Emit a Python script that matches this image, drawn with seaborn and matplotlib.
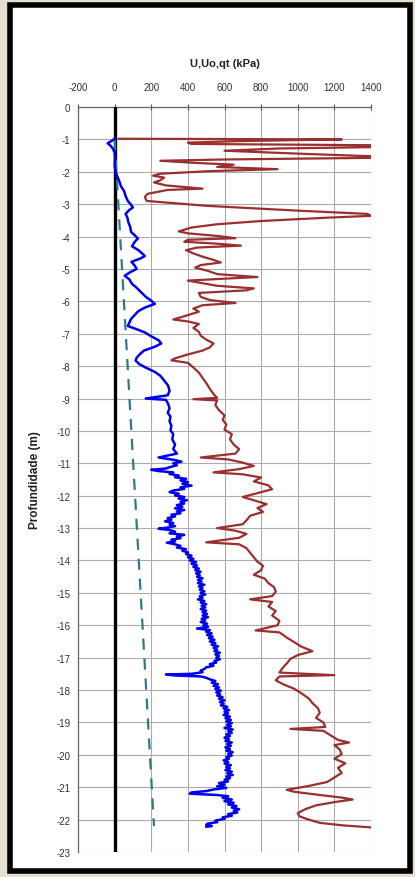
import numpy as np
import seaborn as sns
import matplotlib
matplotlib.use('Agg')
import matplotlib.pyplot as plt
from matplotlib.patches import Rectangle

# qt profile (depth m, kPa)
qt_depth = [0.98, 1.00, 1.05, 1.10, 1.14, 1.18, 1.24, 1.28, 1.35, 1.45, 1.52, 1.57, 1.62, 1.66, 1.72,
	1.78, 1.85, 1.92, 1.98, 2.06, 2.12, 2.18, 2.26, 2.33, 2.42, 2.52, 2.56, 2.68, 2.78, 2.90,
	3.05, 3.20, 3.30, 3.36, 3.42, 3.52, 3.62, 3.72, 3.84, 3.90, 3.98, 4.05, 4.10, 4.16, 4.22,
	4.28, 4.34, 4.42, 4.52, 4.62, 4.72, 4.80, 4.88, 4.96, 5.06, 5.16, 5.25, 5.30, 5.36, 5.44,
	5.52, 5.60, 5.66, 5.74, 5.86, 5.96, 6.05, 6.12, 6.22, 6.32, 6.46, 6.56, 6.62, 6.70, 6.82,
	6.94, 7.06, 7.18, 7.30, 7.42, 7.52, 7.64, 7.76, 7.82, 7.90, 8.04, 8.20, 8.36, 8.52, 8.70,
	8.86, 8.98, 9.02, 9.06, 9.20, 9.36, 9.52, 9.66, 9.80, 9.96, 10.10, 10.26, 10.42, 10.56, 10.70,
	10.82, 10.88, 10.98, 11.08, 11.18, 11.28, 11.34, 11.44, 11.56, 11.68, 11.80, 11.92, 12.04, 12.14, 12.26,
	12.38, 12.50, 12.62, 12.76, 12.88, 13.00, 13.08, 13.18, 13.30, 13.44, 13.50, 13.62, 13.76, 13.90, 14.04,
	14.16, 14.30, 14.44, 14.56, 14.70, 14.82, 14.96, 15.10, 15.20, 15.28, 15.42, 15.56, 15.70, 15.86, 16.00,
	16.16, 16.22, 16.38, 16.52, 16.66, 16.80, 16.92, 17.04, 17.18, 17.30, 17.46, 17.54, 17.58, 17.70, 17.82,
	17.96, 18.10, 18.26, 18.40, 18.56, 18.70, 18.86, 19.00, 19.14, 19.20, 19.26, 19.40, 19.54, 19.62, 19.70,
	19.84, 19.98, 20.12, 20.26, 20.40, 20.56, 20.70, 20.84, 20.96, 21.08, 21.14, 21.24, 21.32, 21.38, 21.46,
	21.56, 21.68, 21.80, 21.90, 22.00, 22.10, 22.18, 22.24]
qt_kpa = [20, 1240, 700, 400, 420, 1400, 1400, 900, 600, 1050, 1400, 1400, 600, 250, 420,
	650, 560, 890, 520, 250, 210, 270, 250, 215, 280, 480, 290, 180, 165, 175,
	500, 1000, 1380, 1400, 1150, 800, 560, 420, 350, 400, 560, 660, 400, 380, 560,
	690, 450, 390, 430, 480, 540, 580, 470, 440, 510, 560, 780, 600, 400, 480,
	560, 760, 720, 460, 470, 520, 660, 480, 430, 460, 380, 320, 400, 460, 430,
	460, 470, 500, 540, 520, 480, 400, 330, 310, 400, 430, 460, 480, 500, 520,
	540, 560, 430, 560, 550, 570, 600, 590, 610, 600, 640, 630, 650, 680, 660,
	470, 620, 700, 760, 680, 540, 700, 800, 760, 840, 860, 780, 700, 760, 830,
	780, 810, 740, 720, 700, 560, 660, 720, 680, 500, 680, 720, 740, 760, 780,
	810, 800, 760, 820, 840, 870, 880, 860, 740, 860, 840, 880, 860, 900, 890,
	770, 900, 940, 980, 1020, 1080, 1000, 960, 940, 920, 900, 1200, 900, 880, 920,
	980, 1020, 1060, 1080, 1110, 1120, 1100, 1140, 1150, 960, 1140, 1180, 1220, 1280, 1200,
	1230, 1240, 1200, 1260, 1220, 1240, 1200, 1160, 1060, 940, 980, 1120, 1240, 1300, 1200,
	1100, 1040, 1000, 1010, 1060, 1120, 1250, 1400]

# pore pressure U
u_depth = [0.98, 1.06, 1.12, 1.18, 1.28, 1.40, 1.60, 1.80, 2.00, 2.15, 2.30, 2.45, 2.60, 2.75, 2.90,
	3.02, 3.10, 3.18, 3.30, 3.42, 3.56, 3.70, 3.86, 3.96, 4.06, 4.16, 4.30, 4.42, 4.52, 4.60,
	4.68, 4.78, 4.90, 5.00, 5.10, 5.21, 5.32, 5.46, 5.58, 5.72, 5.86, 5.98, 6.08, 6.18, 6.30,
	6.42, 6.54, 6.66, 6.76, 6.86, 6.96, 7.08, 7.20, 7.30, 7.40, 7.52, 7.62, 7.74, 7.83, 7.94,
	8.06, 8.18, 8.30, 8.44, 8.60, 8.76, 8.90, 9.00, 9.04, 9.16, 9.30, 9.44, 9.56, 9.70, 9.84,
	9.98, 10.10, 10.26, 10.42, 10.56, 10.70, 10.82,
	10.90, 10.95, 11.00, 11.06, 11.12, 11.16, 11.20, 11.24, 11.28, 11.33, 11.38, 11.43, 11.48, 11.53, 11.58,
	11.63, 11.69, 11.74, 11.79, 11.84, 11.89, 11.94, 11.99, 12.04, 12.09, 12.14, 12.19, 12.24, 12.29, 12.34,
	12.39, 12.44, 12.49, 12.54, 12.59, 12.64, 12.69, 12.74, 12.79, 12.84, 12.89, 12.94, 12.99, 13.02, 13.06,
	13.11, 13.16, 13.21, 13.26, 13.31, 13.36, 13.41, 13.45, 13.50, 13.55, 13.60, 13.65, 13.70, 13.75, 13.80,
	13.85, 13.90, 13.95, 14.00, 14.05, 14.10, 14.15, 14.20, 14.25, 14.30, 14.35, 14.40, 14.45, 14.50, 14.55,
	14.60, 14.65, 14.70, 14.75, 14.80, 14.85, 14.90, 14.95, 15.00, 15.05, 15.10, 15.15, 15.20, 15.25, 15.30,
	15.35, 15.40, 15.45, 15.50, 15.55, 15.60, 15.65, 15.70, 15.75, 15.80, 15.85, 15.90, 15.95, 16.00, 16.05,
	16.10, 16.15, 16.20, 16.25, 16.30, 16.35, 16.40, 16.45, 16.50, 16.55, 16.60, 16.65, 16.70, 16.75, 16.80,
	16.85, 16.90, 16.95, 17.00, 17.05, 17.10, 17.15, 17.20, 17.25, 17.30, 17.35, 17.40, 17.45, 17.50, 17.52,
	17.55, 17.58, 17.62, 17.67, 17.72, 17.77, 17.82, 17.87, 17.92, 17.97, 18.02, 18.07, 18.12, 18.17, 18.22,
	18.27, 18.32, 18.37, 18.42, 18.47, 18.52, 18.57, 18.62, 18.67, 18.72, 18.77, 18.82, 18.87, 18.92, 18.97,
	19.02, 19.07, 19.12, 19.17, 19.22, 19.27, 19.32, 19.37, 19.42, 19.47, 19.52, 19.57, 19.62, 19.67, 19.72,
	19.77, 19.82, 19.87, 19.92, 19.97, 20.02, 20.07, 20.12, 20.17, 20.22, 20.27, 20.32, 20.37, 20.42, 20.47,
	20.52, 20.57, 20.62, 20.67, 20.72, 20.77, 20.82, 20.87, 20.92, 20.97, 21.02, 21.07, 21.12, 21.16, 21.20,
	21.24, 21.28, 21.33, 21.38, 21.43, 21.48, 21.53, 21.58, 21.63, 21.68, 21.73, 21.78, 21.83, 21.88, 21.93,
	21.98, 22.03, 22.08, 22.12, 22.16, 22.20, 22.22]
u_kpa = [0, -20, -38, -25, -10, 0, 2, 0, 5, 15, 26, 35, 52, 60, 72,
	90, 100, 80, 60, 70, 75, 85, 90, 110, 127, 110, 95, 130, 150, 165,
	140, 92, 110, 120, 85, 55, 80, 95, 120, 145, 170, 200, 220, 170, 130,
	110, 90, 80, 72, 120, 165, 200, 240, 255, 220, 160, 140, 120, 115, 135,
	175, 220, 250, 270, 292, 300, 290, 170, 280, 292, 300, 290, 305, 300, 310,
	305, 320, 315, 330, 320, 340, 240,
	330, 365, 320, 340, 300, 280, 200, 240, 320, 300, 350, 330, 390, 360, 400,
	370, 420, 360, 380, 320, 300, 350, 330, 380, 350, 395, 360, 380, 340, 370,
	330, 380, 340, 360, 310, 330, 290, 310, 275, 320, 300, 330, 280, 240, 300,
	330, 300, 380, 340, 360, 310, 330, 285, 330, 360, 340, 390, 370, 400, 390,
	420, 400, 430, 410, 445, 420, 450, 430, 460, 440, 470, 445, 465, 450, 480,
	455, 475, 455, 490, 460, 480, 465, 490, 470, 495, 465, 480, 455, 490, 470,
	500, 475, 495, 470, 500, 480, 505, 480, 510, 475, 495, 470, 505, 485, 510,
	450, 520, 500, 530, 505, 535, 515, 545, 520, 550, 530, 565, 540, 560, 545,
	575, 550, 570, 555, 575, 545, 555, 520, 540, 500, 490, 470, 480, 420, 280,
	330, 470, 500, 520, 550, 530, 565, 540, 570, 550, 580, 555, 575, 560, 590,
	570, 600, 575, 595, 580, 615, 595, 625, 600, 620, 595, 630, 605, 635, 610,
	640, 615, 635, 600, 645, 620, 640, 610, 630, 600, 625, 605, 640, 615, 635,
	605, 630, 610, 645, 620, 640, 610, 625, 595, 620, 600, 635, 610, 630, 605,
	640, 615, 645, 610, 630, 600, 620, 570, 600, 560, 610, 540, 500, 420, 410,
	560, 620, 590, 640, 600, 650, 620, 665, 640, 680, 650, 670, 620, 640, 590,
	600, 550, 560, 510, 500, 530, 500]

# hydrostatic Uo (straight line)
uo_depth = [1.0, 22.2]
uo_kpa = [0, 215]

x_ticks = [-200, 0, 200, 400, 600, 800, 1000, 1200, 1400]
y_ticks = list(range(0, -24, -1))

sns.set_style('white')
plt.rcParams['font.family'] = ['Liberation Sans', 'DejaVu Sans']
plt.rcParams['axes.unicode_minus'] = False

fig = plt.figure(figsize=(4.15, 8.78), dpi=100)
fig.patch.set_facecolor('#e6dfd2')

# white card with black frame behind the chart
bg = fig.add_axes([0, 0, 1, 1], zorder=-1)
bg.set_xlim(0, 415)
bg.set_ylim(878, 0)
bg.axis('off')
bg.add_patch(Rectangle((10, 6), 400, 866, facecolor='white', edgecolor='black', linewidth=4))

ax = fig.add_axes([78 / 415, 25 / 878, 293 / 415, 745 / 878])
ax.set_facecolor('none')

# vertical zero line
ax.plot([0, 0], [0, -23], color='black', lw=2.4, zorder=3)

sns.lineplot(x=uo_kpa, y=[-d for d in uo_depth], ax=ax, sort=False, estimator=None,
	color='#2f7a8c', lw=1.6, linestyle=(0, (5, 4)), zorder=4)
sns.lineplot(x=u_kpa, y=[-d for d in u_depth], ax=ax, sort=False, estimator=None,
	color='#0000ee', lw=1.8, zorder=5)
sns.lineplot(x=qt_kpa, y=[-d for d in qt_depth], ax=ax, sort=False, estimator=None,
	color='#9a2f2f', lw=1.6, zorder=6)

ax.set_xlim(-200, 1400)
ax.set_ylim(-23, 0)
ax.set_xticks(x_ticks)
ax.set_yticks(y_ticks)
ax.xaxis.tick_top()
ax.xaxis.set_label_position('top')
ax.grid(True, color='#ababab', lw=0.8)
ax.tick_params(axis='both', labelsize=7, labelcolor='#333333', direction='inout', length=5,
	width=0.8, color='#555555')
ax.tick_params(axis='x', pad=8)
ax.tick_params(axis='y', pad=3)
for side in ['right', 'bottom']:
	ax.spines[side].set_visible(False)
for side in ['left', 'top']:
	ax.spines[side].set_color('#666666')
	ax.spines[side].set_linewidth(0.9)

ax.set_xlabel('U,Uo,qt (kPa)', fontsize=8, fontweight='bold', labelpad=12, color='#222222')
ax.set_ylabel('Profundidade (m)', fontsize=8.5, fontweight='bold', labelpad=11, color='#222222')

fig.savefig('out.png', dpi=100, facecolor=fig.get_facecolor())
